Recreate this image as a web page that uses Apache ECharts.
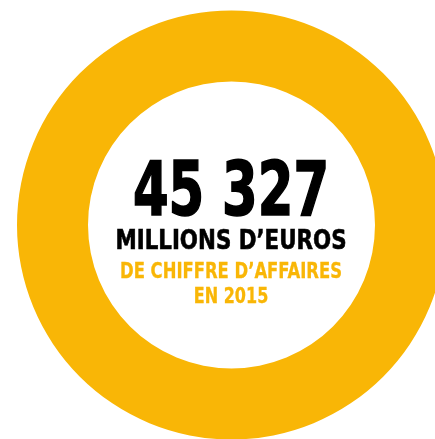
<!DOCTYPE html>
<html><head><meta charset="utf-8">
<script src="https://cdn.jsdelivr.net/npm/echarts@6/dist/echarts.min.js"></script>
<style>html,body{margin:0;padding:0;background:#fff}#c{width:435px;height:439px}</style>
</head><body><div id="c"></div>
<script>
const categories = ["Chiffre d'affaires 2015"];
const values = [45327];
const mainLabel = "45 327";
const unitLabel = "MILLIONS D\u2019EUROS";
const subLabels = ["DE CHIFFRE D\u2019AFFAIRES", "EN 2015"];

const chart = echarts.init(document.getElementById('c'));
const font = '"Liberation Sans Narrow", "DejaVu Sans Condensed", sans-serif';
const cx = 231;
function txt(text, y, size, sx, color, stroke) {
  return {
    type: 'text', x: cx, y: y, scaleX: sx, silent: true,
    style: {
      text: text, font: 'bold ' + size + 'px ' + font, fill: color,
      align: 'center', verticalAlign: 'top',
      stroke: stroke ? color : null, lineWidth: stroke || 0
    }
  };
}
chart.setOption({
  animation: false,
  series: [{
    type: 'pie',
    center: [231.5, 225],
    radius: [143.5, 214.5],
    silent: true,
    label: {show: false},
    labelLine: {show: false},
    itemStyle: {color: '#F9B606'},
    data: categories.map((c, i) => ({name: c, value: values[i]}))
  }],
  graphic: [
    txt(mainLabel, 159, 74, 0.77, '#000', 1.6),
    txt(unitLabel, 228, 27, 0.88, '#000', 0.6),
    txt(subLabels[0], 261, 22, 0.83, '#F9B606', 0.3),
    txt(subLabels[1], 286, 22, 0.81, '#F9B606', 0.3)
  ]
});
</script></body></html>
